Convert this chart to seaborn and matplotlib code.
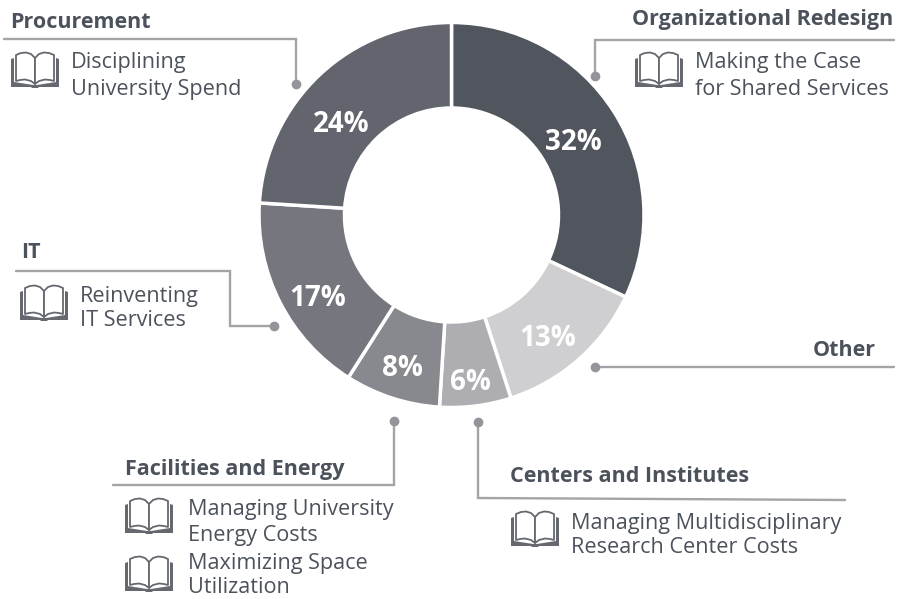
import matplotlib
matplotlib.use('Agg')
import matplotlib.pyplot as plt
from matplotlib.patches import Polygon
import seaborn as sns

sns.set_theme(style='white')
plt.rcParams['font.family'] = ['Open Sans', 'DejaVu Sans']

# Datos del grafico (sentido horario desde las 12)
segmentos = ['Organizational Redesign', 'Other', 'Centers and Institutes',
             'Facilities and Energy', 'IT', 'Procurement']
valores = [32, 13, 6, 8, 17, 24]
colores = ['#51555e', '#cfcfd1', '#aeadb1', '#88898e', '#75767e', '#63656e']

TEXTO = '#4c525c'
LINEA = '#a3a4a8'
ICONO = '#666870'
W, H = 906, 599

fig = plt.figure(figsize=(W / 100, H / 100), dpi=100)
ax = fig.add_axes([0, 0, 1, 1])

# Dona
wedges, textos = ax.pie(valores, colors=colores, startangle=90, counterclock=False,
                        center=(451.5, H - 215), radius=192.5, frame=True,
                        wedgeprops=dict(width=85.5, edgecolor='white', linewidth=2.5))
ax.set_xlim(0, W)
ax.set_ylim(0, H)
ax.set_aspect('equal')
ax.axis('off')


def py(y):
    return H - y


# Porcentajes dentro de la dona
pos_pct = [(573, 143), (548, 339), (470, 382), (402, 368), (318, 299), (341, 124)]
for v, (x, y) in zip(valores, pos_pct):
    ax.text(x, py(y), f'{v}%', color='white', fontsize=20, fontweight='bold',
            ha='center', va='center')


def titulo(x, y, s, ha='left'):
    ax.text(x, py(y), s, color=TEXTO, fontsize=15.5, fontweight='bold', ha=ha, va='center')


def cuerpo(x, y, s, esp=1.32):
    ax.text(x, py(y), s, color=TEXTO, fontsize=15.6, ha='left', va='center', linespacing=esp)


def guia(xs, ys):
    ax.plot(xs, [py(y) for y in ys], color=LINEA, lw=1.7, solid_joinstyle='miter')
    ax.plot(xs[-1], py(ys[-1]), 'o', color='#94959b', ms=7, mew=0)


def libro(x0, y0, esc=1.0):
    # Icono de libro abierto, unidades en pixeles desde la esquina superior
    def p(pts):
        return [(x0 + a * esc, py(y0 + b * esc)) for a, b in pts]

    ax.add_patch(Polygon(p([(0, 8), (3, 7), (3, 31), (22, 34), (26, 34), (45, 31), (45, 7), (48, 8),
                            (48, 36), (28, 36), (27, 37), (21, 37), (20, 36), (0, 36)]),
                         fc=ICONO, ec='none', zorder=3))
    izq = [(5, 4), (10, 2), (15, 1.5), (20, 3), (24, 7), (24, 33), (20, 30), (14, 28.5), (9, 29), (5, 30)]
    der = [(48 - a, b) for a, b in izq]
    for pag in (izq, der):
        ax.add_patch(Polygon(p(pag), fc='white', ec=ICONO, lw=1.3, joinstyle='round', zorder=4))


# Procurement
titulo(10, 22, 'Procurement')
guia([4, 296, 296], [39, 39, 84])
libro(11, 51)
cuerpo(71, 76, 'Disciplining\nUniversity Spend')

# Organizational Redesign
titulo(893, 20, 'Organizational Redesign', ha='right')
guia([894, 595, 595], [40, 40, 76])
libro(635, 51)
cuerpo(695, 76, 'Making the Case\nfor Shared Services')

# IT
titulo(21, 253, 'IT')
guia([16, 230, 230, 274], [271, 271, 326, 326])
libro(20, 284)
cuerpo(80, 308.5, 'Reinventing\nIT Services', esp=1.24)

# Other
titulo(876, 350, 'Other', ha='right')
guia([894, 595], [367, 367])

# Facilities and Energy
titulo(125, 469, 'Facilities and Energy')
guia([113, 394, 394], [485, 485, 421])
libro(125, 497)
cuerpo(188, 522.5, 'Managing University\nEnergy Costs')
libro(125, 555)
cuerpo(188, 575.5, 'Maximizing Space\nUtilization', esp=1.24)

# Centers and Institutes
titulo(510, 477, 'Centers and Institutes')
guia([845, 478, 478], [500, 498, 422])
libro(511, 510)
cuerpo(571, 535.5, 'Managing Multidisciplinary\nResearch Center Costs', esp=1.24)

fig.savefig('out.png', dpi=100, facecolor='white')
